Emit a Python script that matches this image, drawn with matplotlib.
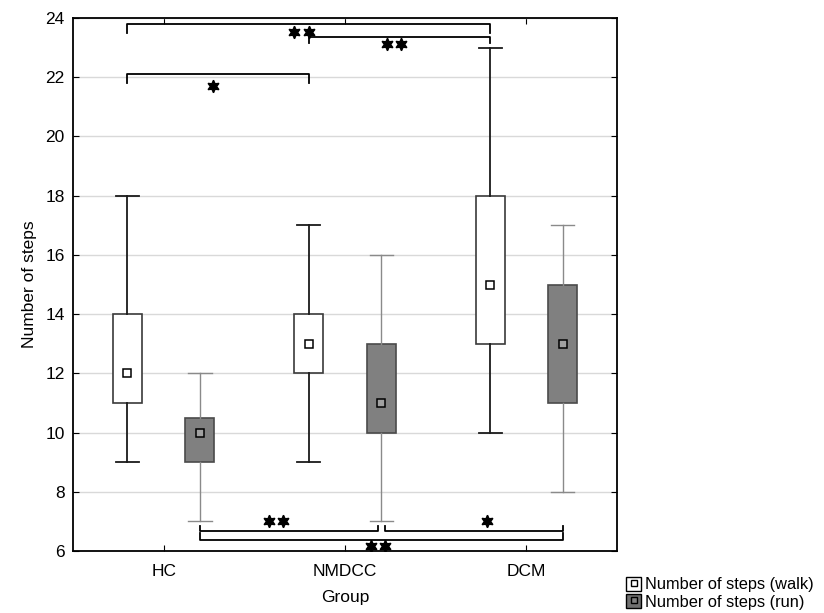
import matplotlib.pyplot as plt
from matplotlib.patches import Patch
from matplotlib.lines import Line2D

plt.rcParams['font.family'] = ['Liberation Sans', 'DejaVu Sans']

groups = ["HC", "NMDCC", "DCM"]
walk_low = [9, 9, 10]
walk_q1 = [11, 12, 13]
walk_mean = [12, 13, 15]
walk_q3 = [14, 14, 18]
walk_high = [18, 17, 23]
run_low = [7, 7, 8]
run_q1 = [9, 10, 11]
run_mean = [10, 11, 13]
run_q3 = [10.5, 13, 15]
run_high = [12, 16, 17]

# brackets: (from x, to x, bar y, leg end y, star count, star x, star y)
top_brackets = [
    (0 - 0.2, 2 - 0.2, 23.79, 23.48, 2, 0.76, 23.53),
    (1 - 0.2, 2 - 0.2, 23.37, 23.15, 2, 1.27, 23.12),
    (0 - 0.2, 1 - 0.2, 22.12, 21.80, 1, 0.27, 21.71),
]
bottom_brackets = [
    (0 + 0.2, 1 + 0.18, 6.69, 6.86, 2, 0.62, 7.03),
    (1 + 0.22, 2 + 0.2, 6.69, 6.86, 1, 1.78, 7.03),
    (0 + 0.2, 2 + 0.2, 6.37, 6.60, 2, 1.18, 6.18),
]

fig = plt.figure(figsize=(8.24, 6.13), dpi=100)
ax = fig.add_axes([0.0886, 0.101, 0.6604, 0.8696])

off = 0.2
bw = 0.16
pos = range(len(groups))

def stats(lo, q1, mn, q3, hi):
    return [dict(whislo=a, q1=b, med=c, mean=c, q3=d, whishi=e, fliers=[])
            for a, b, c, d, e in zip(lo, q1, mn, q3, hi)]

ax.bxp(stats(walk_low, walk_q1, walk_mean, walk_q3, walk_high),
       positions=[p - off for p in pos], widths=bw, capwidths=bw * 0.8,
       patch_artist=True, showmeans=True, showfliers=False,
       boxprops=dict(facecolor='white', edgecolor='#3a3a3a', linewidth=1.2),
       whiskerprops=dict(color='#1a1a1a', linewidth=1.3),
       capprops=dict(color='#1a1a1a', linewidth=1.3),
       medianprops=dict(linewidth=0),
       meanprops=dict(marker='s', markerfacecolor='white', markeredgecolor='black',
                      markersize=5.5, markeredgewidth=1.1),
       zorder=3)
ax.bxp(stats(run_low, run_q1, run_mean, run_q3, run_high),
       positions=[p + off for p in pos], widths=bw, capwidths=bw * 0.8,
       patch_artist=True, showmeans=True, showfliers=False,
       boxprops=dict(facecolor='#808080', edgecolor='#4a4a4a', linewidth=1.2),
       whiskerprops=dict(color='#8a8a8a', linewidth=1.0),
       capprops=dict(color='#8a8a8a', linewidth=1.0),
       medianprops=dict(linewidth=0),
       meanprops=dict(marker='s', markerfacecolor='#a0a0a0', markeredgecolor='black',
                      markersize=5.5, markeredgewidth=1.1),
       zorder=3)

for x0, x1, yb, yl, n, sx, sy in top_brackets + bottom_brackets:
    ax.plot([x0, x0, x1, x1], [yl, yb, yb, yl], color='black', lw=1.3, zorder=4)
    xs = [sx + (i - (n - 1) / 2) * 0.078 for i in range(n)]
    ax.plot(xs, [sy] * n, linestyle='none', marker=(6, 1, 0), color='black',
            markersize=9, zorder=4)

ax.set_xlim(-0.5, 2.5)
ax.set_ylim(6, 24)
ax.set_yticks(range(6, 25, 2))
ax.set_xticks(list(pos))
ax.set_xticklabels(groups)
ax.yaxis.grid(True, color='#d9d9d9', lw=1)
ax.set_axisbelow(True)
ax.tick_params(direction='in', top=True, right=True, labelsize=12.5, length=4)
ax.tick_params(axis='x', pad=9)
ax.tick_params(axis='y', pad=6)
for s in ax.spines.values():
    s.set_linewidth(1.3)
ax.set_xlabel("Group", fontsize=12.5, labelpad=8)
ax.set_ylabel("Number of steps", fontsize=12.5, labelpad=6)

h_walk = (Patch(facecolor='white', edgecolor='black'),
          Line2D([], [], marker='s', linestyle='none', markerfacecolor='white',
                 markeredgecolor='black', markersize=4.5))
h_run = (Patch(facecolor='#707070', edgecolor='black'),
         Line2D([], [], marker='s', linestyle='none', markerfacecolor='#808080',
                markeredgecolor='black', markersize=4.5))
fig.legend([h_walk, h_run], ["Number of steps (walk)", "Number of steps (run)"],
           loc='lower left', bbox_to_anchor=(0.752, -0.005), frameon=False,
           fontsize=11.8, handlelength=0.9, handleheight=0.9, handletextpad=0.25,
           labelspacing=0.1, borderpad=0.2, borderaxespad=0.2)

fig.savefig("out.png", dpi=100)
